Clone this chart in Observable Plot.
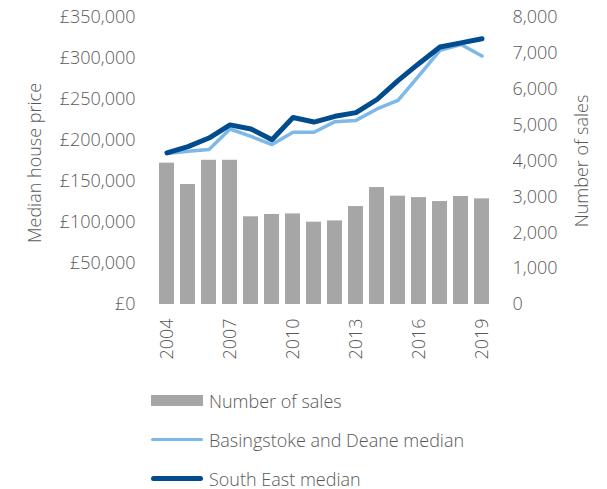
<!DOCTYPE html>
<html><head><meta charset="utf-8">
<script src="https://cdn.jsdelivr.net/npm/d3@7"></script>
<script src="https://cdn.jsdelivr.net/npm/@observablehq/plot@0.6"></script>
<style>
body{margin:0;background:#fff;font-family:"Open Sans",sans-serif;font-weight:300;color:#595959;overflow:hidden}
#legend{margin-left:151px;margin-top:1px}
.row{height:39px;display:flex;align-items:center;font-size:18px;line-height:22px}
.sw{width:52px;display:flex;align-items:center;margin-right:6px}
</style></head><body>
<div id="chart"></div>
<div id="legend"></div>
<script>
const years = ["2004","2005","2006","2007","2008","2009","2010","2011","2012","2013","2014","2015","2016","2017","2018","2019"];
const sales = [3940,3345,4020,4020,2445,2510,2525,2295,2330,2730,3260,3020,2980,2870,3010,2945];
const basingstoke = [184000,187000,189000,214000,205000,195000,210000,210000,223000,224500,238500,249000,279000,310000,317000,303000];
const southEast = [185000,192500,203000,219000,214000,201000,228000,222500,229500,234000,250000,273000,294000,314000,319000,324000];
const priceTicks = [0,50000,100000,150000,200000,250000,300000,350000];
const salesTicks = [0,1000,2000,3000,4000,5000,6000,7000,8000];
const yearTicks = ["2004","2007","2010","2013","2016","2019"];
const priceMax = 350000, salesMax = 8000;
const k = priceMax / salesMax;

const data = years.map((y, i) => ({year: y, sales: sales[i], bas: basingstoke[i], se: southEast[i]}));
const fmt = d3.format(",");
const grey = "#595959";

const chart = Plot.plot({
  width: 607,
  height: 380,
  marginTop: 17,
  marginBottom: 76,
  marginLeft: 153,
  marginRight: 112,
  style: {fontFamily: "'Open Sans', sans-serif", fontWeight: 300, fontSize: "18px", color: grey, background: "#fff"},
  x: {domain: years, paddingInner: 0.3, paddingOuter: 0.15, axis: null},
  y: {domain: [0, priceMax], axis: null},
  marks: [
    Plot.barY(data, {x: "year", y: d => d.sales * k, fill: "#a6a6a6"}),
    Plot.line(data, {x: "year", y: "bas", stroke: "#7cb8e8", strokeWidth: 3.5, strokeLinejoin: "round"}),
    Plot.line(data, {x: "year", y: "se", stroke: "#004c8f", strokeWidth: 5, strokeLinecap: "round", strokeLinejoin: "round"}),
    Plot.axisY(priceTicks, {anchor: "left", tickSize: 0, tickPadding: 18, tickFormat: d => "£" + fmt(d), label: null, fill: grey}),
    Plot.axisY(salesTicks.map(d => d * k), {anchor: "right", tickSize: 0, tickPadding: 17, tickFormat: d => fmt(Math.round(d / k)), label: null, fill: grey}),
    Plot.axisX(yearTicks, {anchor: "bottom", tickSize: 0, tickPadding: 14, tickRotate: -90, label: null, fill: grey}),
    Plot.text(["Median house price"], {frameAnchor: "left", dx: -118, dy: 2, rotate: -90, textAnchor: "middle", fill: grey, fontSize: 18}),
    Plot.text(["Number of sales"], {frameAnchor: "right", dx: 87, rotate: -90, textAnchor: "middle", fill: grey, fontSize: 18})
  ]
});
document.getElementById("chart").appendChild(chart);

const legendItems = [
  {label: "Number of sales", type: "rect", color: "#a6a6a6"},
  {label: "Basingstoke and Deane median", type: "line", color: "#7cb8e8", w: 3.5},
  {label: "South East median", type: "line", color: "#004c8f", w: 5}
];
const legend = document.getElementById("legend");
for (const it of legendItems) {
  const row = document.createElement("div");
  row.className = "row";
  const sw = document.createElement("div");
  sw.className = "sw";
  const s = document.createElement("div");
  s.style.width = "52px";
  s.style.background = it.color;
  if (it.type === "rect") { s.style.height = "11px"; }
  else { s.style.height = it.w + "px"; s.style.borderRadius = "3px"; }
  sw.appendChild(s);
  const t = document.createElement("span");
  t.textContent = it.label;
  row.appendChild(sw);
  row.appendChild(t);
  legend.appendChild(row);
}
</script>
</body></html>
